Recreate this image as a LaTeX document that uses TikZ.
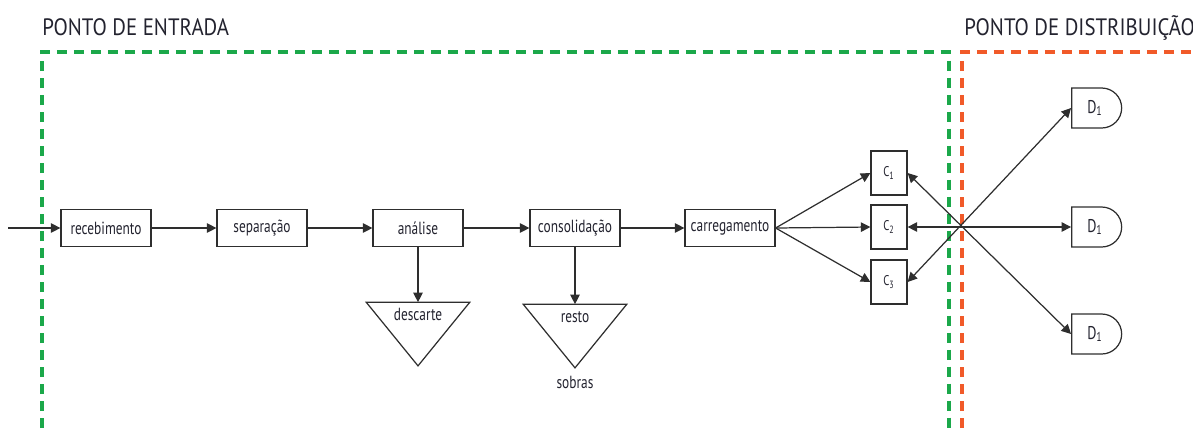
\documentclass[tikz,border=0pt]{standalone}
\usepackage{fontspec}
\setmainfont{PT Sans}
\newfontfamily\boxfont[FakeStretch=0.76]{PT Sans}
\newfontfamily\titlefont[FakeStretch=0.88]{PT Sans}
\usetikzlibrary{arrows.meta,shapes.gates.logic.US}
\definecolor{entrygreen}{HTML}{1BA84A}
\definecolor{distorange}{HTML}{F15A29}
\definecolor{linegray}{HTML}{2E2E2E}
\definecolor{inkdark}{HTML}{23232F}

\begin{document}
\begin{tikzpicture}[x=0.02cm, y=-0.02cm,
  stepbox/.style={draw=linegray, line width=0.7pt, minimum width=1.8cm, minimum height=0.74cm, inner sep=0pt, text=inkdark, font=\boxfont\fontsize{10}{12}\selectfont},
  cellbox/.style={stepbox, minimum width=0.72cm, minimum height=0.88cm, font=\boxfont\fontsize{8}{9}\selectfont},
  dockgate/.style={and gate US, draw=linegray, line width=0.7pt, minimum width=0.92cm, minimum height=0.8cm, inner sep=0pt, text=inkdark, font=\boxfont\fontsize{10.5}{12}\selectfont},
  wastetri/.style={minimum width=2.06cm, minimum height=1.26cm, inner sep=0pt, text height=0.36cm, text depth=0.9cm, text=inkdark, font=\boxfont\fontsize{10}{12}\selectfont},
  plainlabel/.style={inner sep=0pt, text=inkdark, font=\boxfont\fontsize{10}{12}\selectfont},
  flow/.style={-{Triangle[length=1.9mm, width=1.9mm]}, draw=linegray, line width=0.7pt},
  twoway/.style={{Triangle[length=1.9mm, width=1.9mm]}-{Triangle[length=1.9mm, width=1.9mm]}, draw=linegray, line width=0.7pt},
  zone/.style={dash pattern=on 0.2cm off 0.14cm, line width=2.3pt},
  zonetitle/.style={anchor=base west, inner sep=0pt, text=inkdark, font=\titlefont\fontsize{13.5}{16}\selectfont}
]
\useasboundingbox (0,0) rectangle (1193,430);

% Zones
\draw [zone, entrygreen] (42,445) -- (42,52) -- (949,52) -- (949,445);
\draw [zone, distorange] (962,445) -- (962,52) -- (1210,52);
\node (entrytitle) at (42,35) [zonetitle] {PONTO DE ENTRADA};
\node (disttitle) at (964,35) [zonetitle] {PONTO DE DISTRIBUIÇÃO};

% Process steps
\coordinate (entry) at (8,228);
\node (recv) at (106,228) [stepbox] {recebimento};
\node (sorting) at (262,228) [stepbox] {separação};
\node (check) at (418,228) [stepbox] {análise};
\node (merge) at (575,228) [stepbox] {consolidação};
\node (load) at (730,228) [stepbox] {carregamento};

% Waste outputs
\node (discard) at (418,334) [wastetri] {descarte};
\draw [linegray, line width=0.7pt] (discard.north west) -- (discard.north east) -- (discard.south) -- cycle;
\node (rest) at (575,336) [wastetri] {resto};
\draw [linegray, line width=0.7pt] (rest.north west) -- (rest.north east) -- (rest.south) -- cycle;
\node (leftover) at (575,382) [plainlabel] {sobras};

% Loading cells
\node (c1) at (889,173) [cellbox] {C\textsubscript{1}};
\node (c2) at (889,227) [cellbox] {C\textsubscript{2}};
\node (c3) at (889,282) [cellbox] {C\textsubscript{3}};

% Distribution docks
\node (d1) at (1095,108) [dockgate] {D\textsubscript{1}};
\node (d2) at (1095,227) [dockgate] {D\textsubscript{1}};
\node (d3) at (1095,334) [dockgate] {D\textsubscript{1}};

% Flows
\draw [flow] (entry) -- (recv.west);
\draw [flow] (recv) -- (sorting);
\draw [flow] (sorting) -- (check);
\draw [flow] (check) -- (merge);
\draw [flow] (merge) -- (load);
\draw [flow] (check.south) -- (discard.north);
\draw [flow] (merge.south) -- (rest.north);

\draw [flow] (load.east) -- (c1.west);
\draw [flow] (load.east) -- (c2.west);
\draw [flow] (load.east) -- (c3.west);

\draw [twoway] (c1.east) -- (d3.west);
\draw [twoway] (c2.east) -- (d2.west);
\draw [twoway] (c3.east) -- (d1.west);
\end{tikzpicture}
\end{document}
